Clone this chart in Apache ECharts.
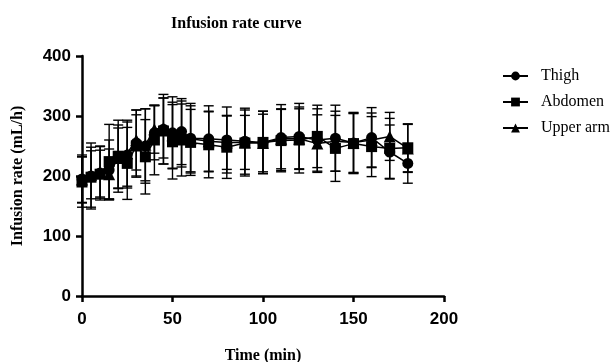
<!DOCTYPE html>
<html>
<head>
<meta charset="utf-8">
<script src="https://cdn.jsdelivr.net/npm/echarts@6/dist/echarts.min.js"></script>
<style>
  html, body { margin: 0; padding: 0; background: #fff; }
  #chart { width: 613px; height: 362px; }
</style>
</head>
<body>
<div id="chart"></div>
<script>
// time points (min)
const times = [0, 5, 10, 15, 20, 25, 30, 35, 40, 45, 50, 55, 60, 70, 80, 90, 100, 110, 120, 130, 140, 150, 160, 170, 180]

// mean infusion rate (mL/h)
const thigh = [195, 200, 205, 210, 232, 235, 255, 250, 272, 278, 272, 274, 263, 262, 260, 258, 256, 264, 266, 260, 263, 255, 264, 240, 221]
const abdomen = [190, 198, 203, 224, 233, 221, 250, 232, 260, 275, 257, 260, 256, 252, 248, 255, 256, 259, 260, 266, 246, 254, 249, 246, 247]
const upperArm = [194, 202, 207, 203, 230, 238, 260, 252, 278, 280, 268, 270, 262, 258, 256, 256, 255, 262, 262, 254, 258, 256, 260, 266, 246]

// standard deviations
const thighSd = [40, 55, 45, 50, 53, 55, 55, 62, 45, 58, 60, 55, 58, 55, 55, 55, 52, 55, 55, 52, 55, 50, 50, 45, 33]
const abdomenSd = [42, 50, 40, 62, 60, 60, 52, 62, 58, 55, 62, 60, 55, 55, 52, 55, 52, 52, 55, 52, 55, 50, 50, 50, 40]
const upperArmSd = [38, 40, 42, 42, 50, 55, 50, 60, 40, 50, 55, 55, 55, 50, 45, 45, 48, 50, 50, 48, 50, 50, 45, 40, 40]

const xTicks = { min: 0, max: 200, interval: 50 }
const yTicks = { min: 0, max: 400, interval: 100 }

const groups = [
    { name: 'Thigh', symbol: 'circle', mean: thigh, sd: thighSd },
    { name: 'Abdomen', symbol: 'rect', mean: abdomen, sd: abdomenSd },
    { name: 'Upper arm', symbol: 'triangle', mean: upperArm, sd: upperArmSd }
]

const serif = 'Liberation Serif, Times New Roman, serif'
const sans = 'Liberation Sans, Arial, sans-serif'

function errorBars(g) {
    return {
        type: 'custom',
        name: g.name + ' SD',
        z: 1,
        silent: true,
        data: times.map((t, i) => [t, g.mean[i] - g.sd[i], g.mean[i] + g.sd[i]]),
        renderItem: (params, api) => {
            const lo = api.coord([api.value(0), api.value(1)])
            const hi = api.coord([api.value(0), api.value(2)])
            const w = 5
            const style = { stroke: '#000', lineWidth: 1.4 }
            return {
                type: 'group',
                children: [
                    { type: 'line', shape: { x1: lo[0], y1: lo[1], x2: hi[0], y2: hi[1] }, style },
                    { type: 'line', shape: { x1: lo[0] - w, y1: lo[1], x2: lo[0] + w, y2: lo[1] }, style },
                    { type: 'line', shape: { x1: hi[0] - w, y1: hi[1], x2: hi[0] + w, y2: hi[1] }, style }
                ]
            }
        }
    }
}

function meanLine(g) {
    return {
        type: 'line',
        name: g.name,
        z: 3,
        symbol: g.symbol,
        symbolSize: g.symbol === 'triangle' ? 12 : 11,
        color: '#000',
        lineStyle: { color: '#000', width: 1.5 },
        itemStyle: { color: '#000' },
        data: times.map((t, i) => [t, g.mean[i]])
    }
}

const chart = echarts.init(document.getElementById('chart'))

chart.setOption({
    animation: false,
    backgroundColor: '#fff',
    title: {
        text: 'Infusion rate curve',
        left: 166,
        top: 11,
        textStyle: { fontFamily: serif, fontWeight: 'bold', fontSize: 16, color: '#000' }
    },
    legend: {
        orient: 'vertical',
        left: 497,
        top: 63,
        itemWidth: 25,
        itemHeight: 11,
        itemGap: 10,
        data: groups.map(g => g.name),
        textStyle: { fontFamily: serif, fontSize: 16, color: '#000', padding: [0, 0, 0, 8] }
    },
    grid: { left: 82, right: 169, top: 56, bottom: 66, outerBoundsMode: 'none' },
    xAxis: {
        type: 'value',
        ...xTicks,
        name: 'Time (min)',
        nameLocation: 'middle',
        nameGap: 52,
        nameTextStyle: { fontFamily: serif, fontWeight: 'bold', fontSize: 16, color: '#000' },
        axisLine: { show: true, onZero: false, lineStyle: { color: '#000', width: 2.5 } },
        axisTick: { show: true, length: 6, lineStyle: { color: '#000', width: 2.5 } },
        axisLabel: { margin: 15, fontFamily: sans, fontWeight: 'bold', fontSize: 17, color: '#000' },
        splitLine: { show: false }
    },
    yAxis: {
        type: 'value',
        ...yTicks,
        name: 'Infusion rate (mL/h)',
        nameLocation: 'middle',
        nameGap: 56,
        nameTextStyle: { fontFamily: serif, fontWeight: 'bold', fontSize: 16, color: '#000' },
        axisLine: { show: true, lineStyle: { color: '#000', width: 2.5 } },
        axisTick: { show: true, length: 6, lineStyle: { color: '#000', width: 2.5 } },
        axisLabel: { margin: 11, fontFamily: sans, fontWeight: 'bold', fontSize: 17, color: '#000' },
        splitLine: { show: false }
    },
    series: [...groups.map(errorBars), ...groups.map(meanLine)]
})
</script>
</body>
</html>
